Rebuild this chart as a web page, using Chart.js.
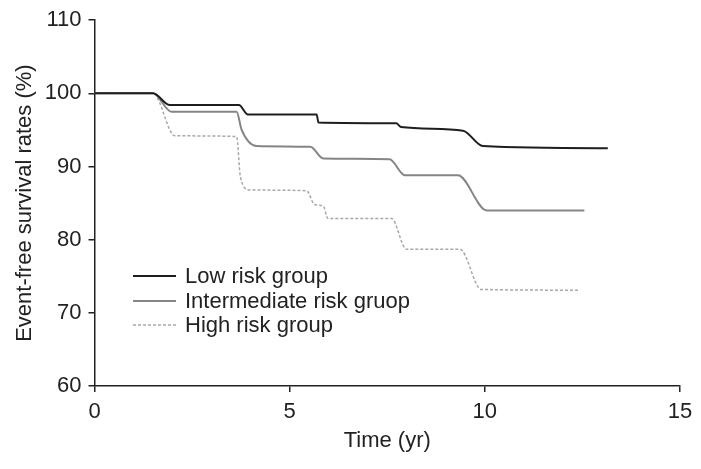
<!DOCTYPE html>
<html>
<head>
<meta charset="utf-8">
<script src="https://cdn.jsdelivr.net/npm/chart.js@4.4.0/dist/chart.umd.min.js"></script>
<style>
  html, body { margin: 0; padding: 0; background: #fff; }
  #wrap { width: 701px; height: 469px; }
</style>
</head>
<body>
<div id="wrap"><canvas id="kmChart" width="701" height="469"></canvas></div>
<script>
  const xTicks = [0, 5, 10, 15];
  const yTicks = [60, 70, 80, 90, 100, 110];

  const lowTime = [0, 1.5, 1.93, 3.7, 3.93, 5.69, 5.74, 7.73, 7.85, 9.44, 9.95, 13.15];
  const lowSurv = [100, 100, 98.4, 98.4, 97.1, 97.1, 96.0, 95.9, 95.4, 94.9, 92.8, 92.5];

  const midTime = [0, 1.5, 1.97, 3.64, 3.77, 4.15, 5.53, 5.86, 7.56, 7.95, 9.31, 10.05, 12.55];
  const midSurv = [100, 100, 97.5, 97.5, 95.0, 92.8, 92.7, 91.1, 91.0, 88.8, 88.8, 84.0, 84.0];

  const highTime = [0, 1.5, 2.06, 3.64, 3.74, 3.98, 5.43, 5.64, 5.86, 5.98, 7.61, 7.99, 9.36, 9.91, 12.43];
  const highSurv = [100, 100, 94.2, 94.1, 88.5, 86.8, 86.7, 84.8, 84.6, 82.9, 82.9, 78.7, 78.7, 73.2, 73.1];

  const groups = ['Low risk group', 'Intermediate risk gruop', 'High risk group'];

  const toPoints = (t, s) => t.map((v, i) => ({ x: v, y: s[i] }));

  const fontFam = '"Liberation Sans", Arial, sans-serif';
  const ink = '#222';

  // legend drawn inside the plot, like the figure
  const innerLegend = {
    id: 'innerLegend',
    afterDraw(chart) {
      const ctx = chart.ctx;
      const rows = [276, 301, 325];
      ctx.save();
      chart.data.datasets.forEach((ds, i) => {
        ctx.beginPath();
        ctx.strokeStyle = ds.borderColor;
        ctx.lineWidth = ds.borderWidth;
        ctx.setLineDash(ds.borderDash || []);
        ctx.moveTo(133, rows[i]);
        ctx.lineTo(176, rows[i]);
        ctx.stroke();
        ctx.setLineDash([]);
        ctx.fillStyle = ink;
        ctx.font = '22px ' + fontFam;
        ctx.textBaseline = 'middle';
        ctx.fillText(ds.label, 185, rows[i] + 1);
      });
      ctx.restore();
    }
  };

  new Chart(document.getElementById('kmChart').getContext('2d'), {
    type: 'scatter',
    data: {
      datasets: [{
        label: groups[0],
        data: toPoints(lowTime, lowSurv),
        borderColor: '#1e1e1e',
        borderWidth: 2,
        showLine: true,
        cubicInterpolationMode: 'monotone',
        pointRadius: 0
      }, {
        label: groups[1],
        data: toPoints(midTime, midSurv),
        borderColor: '#858585',
        borderWidth: 2,
        showLine: true,
        cubicInterpolationMode: 'monotone',
        pointRadius: 0
      }, {
        label: groups[2],
        data: toPoints(highTime, highSurv),
        borderColor: '#a8a8a8',
        borderWidth: 1.5,
        borderDash: [3, 2],
        showLine: true,
        cubicInterpolationMode: 'monotone',
        pointRadius: 0
      }]
    },
    options: {
      responsive: false,
      animation: false,
      layout: { padding: { top: 20, right: 21, left: 0, bottom: 0 } },
      plugins: { legend: { display: false }, tooltip: { enabled: false } },
      scales: {
        x: {
          type: 'linear',
          min: 0,
          max: 15,
          afterBuildTicks: s => { s.ticks = xTicks.map(v => ({ value: v })); },
          afterFit: s => { s.height = 83; },
          border: { color: ink, width: 1.5 },
          grid: { drawOnChartArea: false, tickLength: 6, color: ink, lineWidth: 1.5 },
          ticks: { color: ink, font: { family: fontFam, size: 22 }, padding: 7, maxRotation: 0 },
          title: { display: true, text: 'Time (yr)', color: ink, font: { family: fontFam, size: 22 }, padding: { top: 4, bottom: 15 } }
        },
        y: {
          min: 60,
          max: 110,
          afterBuildTicks: s => { s.ticks = yTicks.map(v => ({ value: v })); },
          afterFit: s => { s.width = 94.5; },
          border: { color: ink, width: 1.5 },
          grid: { drawOnChartArea: false, tickLength: 6, color: ink, lineWidth: 1.5 },
          ticks: { color: ink, font: { family: fontFam, size: 22 }, padding: 7 },
          title: { display: true, text: 'Event-free survival rates (%)', color: ink, font: { family: fontFam, size: 22 }, padding: { top: 12, bottom: 0 } }
        }
      }
    },
    plugins: [innerLegend]
  });
</script>
</body>
</html>
